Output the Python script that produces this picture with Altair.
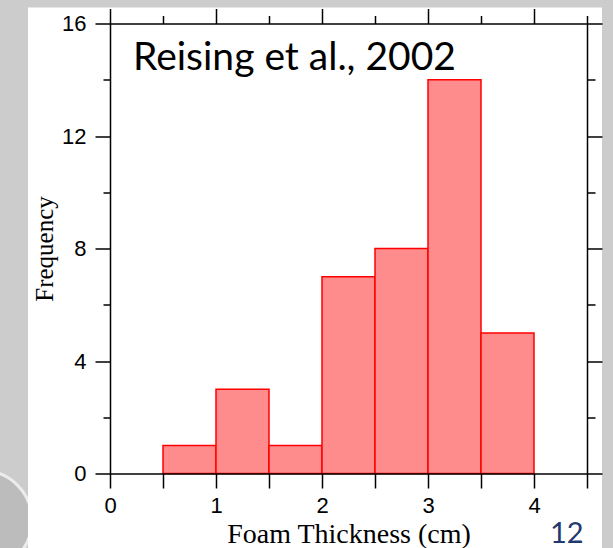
import altair as alt
import pandas as pd

# ---- data ----
bin_start = [0.5, 1.0, 1.5, 2.0, 2.5, 3.0, 3.5]
bin_end = [1.0, 1.5, 2.0, 2.5, 3.0, 3.5, 4.0]
frequency = [1, 3, 1, 7, 8, 14, 5]

x_all_ticks = [0, 0.5, 1, 1.5, 2, 2.5, 3, 3.5, 4, 4.5]
x_major_ticks = [0, 1, 2, 3, 4]
x_minor_ticks = [0.5, 1.5, 2.5, 3.5, 4.5]
y_major_ticks = [0, 4, 8, 12, 16]
y_minor_ticks = [2, 6, 10, 14]

annotation = "Reising et al., 2002"
slide_number = "12"

df = pd.DataFrame({"start": bin_start, "end": bin_end, "freq": frequency})
one = pd.DataFrame({"a": [0]})

W, H = 477, 450
xs = alt.Scale(domain=[0, 4.5], nice=False, zero=False)
ys = alt.Scale(domain=[0, 16], nice=False, zero=False)

common = dict(grid=False, domainColor="black", tickColor="black",
              domainWidth=1.5, tickWidth=1.5, labelColor="black",
              labelFont="Liberation Sans", labelFontSize=22,
              labelOverlap=False, labelFlush=False, labelBound=False,
              zindex=2)

# slide decoration (grey disc at lower left, mostly hidden by the panel)
disc = alt.Chart(one).mark_arc(theta=0, theta2=6.2832, fill="#bcbcbc",
                               stroke="#ececec", strokeWidth=3).encode(
    x=alt.value(-128), y=alt.value(497), radius=alt.value(50)
)

# white slide panel
panel = alt.Chart(one).mark_rect(color="white").encode(
    x=alt.value(-82), x2=alt.value(492), y=alt.value(-16), y2=alt.value(525)
)

bars = alt.Chart(df).mark_rect(fill="#ff8c8c", stroke="#ff0000", strokeWidth=1.5).encode(
    x=alt.X("start:Q", scale=xs, axis=alt.Axis(
        orient="bottom", values=x_all_ticks, format="~g",
        labelExpr="datum.value % 1 === 0 ? datum.label : ''",
        tickSize=14.5, labelPadding=7,
        title="Foam Thickness (cm)", titleFont="Liberation Serif",
        titleFontSize=28, titleFontWeight="normal", titleColor="black",
        titlePadding=4, **common)),
    x2="end:Q",
    y=alt.Y("freq:Q", scale=ys, axis=alt.Axis(
        orient="left", values=y_major_ticks, tickSize=15, labelPadding=9,
        title="Frequency", titleFont="Liberation Serif", titleFontSize=25,
        titleFontWeight="normal", titleColor="black", titlePadding=4, **common)),
    y2=alt.datum(0),
)

ghost_major = alt.Chart(df).mark_point(opacity=0).encode(
    x=alt.X("start:Q", scale=xs, axis=alt.Axis(
        orient="top", values=x_major_ticks, tickSize=15, labels=False,
        title=None, **common)),
    y=alt.Y("freq:Q", scale=ys, axis=alt.Axis(
        orient="right", values=y_major_ticks, tickSize=15, labels=False,
        title=None, **common)),
)

ghost_minor = alt.Chart(df).mark_point(opacity=0).encode(
    x=alt.X("start:Q", scale=xs, axis=alt.Axis(
        orient="top", values=x_minor_ticks, tickSize=8, labels=False,
        domain=False, title=None, **common)),
    y=alt.Y("freq:Q", scale=ys, axis=alt.Axis(
        orient="left", values=y_minor_ticks, tickSize=7, labels=False,
        domain=False, title=None, **common)),
)

ghost_minor2 = alt.Chart(df).mark_point(opacity=0).encode(
    x=alt.X("start:Q", scale=xs, axis=None),
    y=alt.Y("freq:Q", scale=ys, axis=alt.Axis(
        orient="right", values=y_minor_ticks, tickSize=8, labels=False,
        domain=False, title=None, **common)),
)

label = alt.Chart(one).mark_text(
    text=annotation, font="Lato", fontSize=39, color="black",
    align="left", baseline="alphabetic"
).encode(x=alt.value(23), y=alt.value(46.5))

page = alt.Chart(one).mark_text(
    text=slide_number, font="Lato", fontSize=29, color="#1f3a6e",
    align="left", baseline="alphabetic"
).encode(x=alt.value(440), y=alt.value(519.5))

chart = alt.layer(disc, panel, bars, ghost_major, ghost_minor, ghost_minor2, label, page).resolve_axis(
    x="independent", y="independent"
).properties(
    width=W, height=H,
    padding={"left": 110, "top": 23.5, "right": 26, "bottom": 74.5},
    autosize=alt.AutoSizeParams(type="none"),
    background="#cccccc",
).configure_view(stroke=None)

chart.save("out.html", embed_options={"renderer": "svg", "actions": False})
